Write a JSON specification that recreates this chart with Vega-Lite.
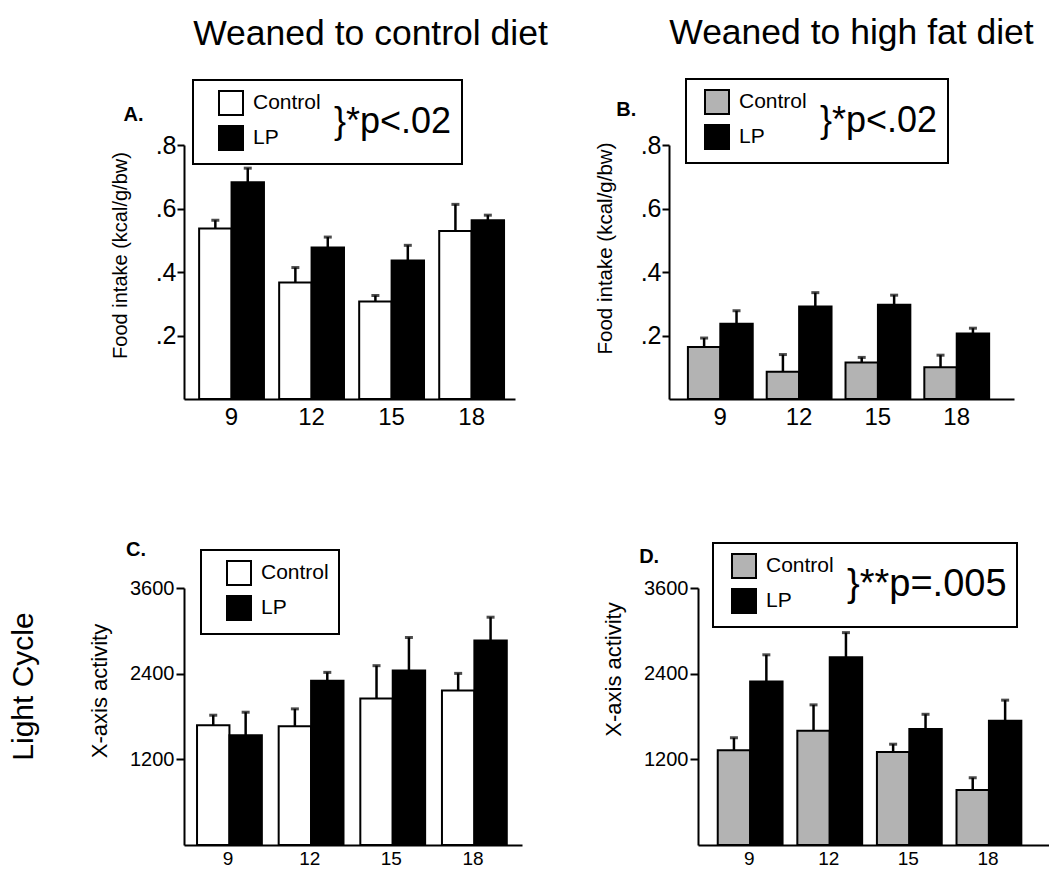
{
  "$schema": "https://vega.github.io/schema/vega-lite/v6.json",
  "background": "white",
  "padding": {"left": 8, "top": 15, "right": 0, "bottom": 0},
  "config": {
    "font": "Liberation Sans",
    "view": {"stroke": null},
    "axis": {"domainColor": "black", "domainWidth": 2, "tickColor": "black", "tickWidth": 2, "labelColor": "black", "titleColor": "black", "grid": false, "titleFontWeight": "normal", "labelFont": "Liberation Sans", "titleFont": "Liberation Sans"},
    "title": {"color": "black", "fontWeight": "normal", "font": "Liberation Sans"},
    "legend": {"orient": "none", "padding": 10, "strokeColor": "black", "strokeWidth": 2, "fillColor": "white", "symbolSize": 576, "symbolType": "square", "symbolStrokeColor": "black", "symbolStrokeWidth": 2, "symbolOffset": 15, "labelFontSize": 21, "labelFont": "Liberation Sans", "labelColor": "black", "labelOffset": 9, "rowPadding": 3, "titleOrient": "right", "titleFontSize": 36, "titleFontWeight": "normal", "titleFont": "Liberation Sans", "titleColor": "black", "titlePadding": 13, "titleAnchor": "middle", "titleBaseline": "middle", "titleLimit": 400, "labelLimit": 200}
  },
  "resolve": {"scale": {"color": "independent"}, "legend": {"color": "independent"}},
  "spacing": 110,
  "vconcat": [
    {
      "bounds": "flush",
      "spacing": 154,
      "resolve": {"scale": {"color": "independent"}, "legend": {"color": "independent"}},
      "hconcat": [
        {
          "width": 331, "height": 254,
          "title": {"text": "Weaned to control diet", "fontSize": 35.5, "anchor": "middle", "frame": "group", "dx": 21, "offset": 27},
          "data": {"values": [
            {"age": "9", "group": "Control", "mean": 0.537, "err": 0.563},
            {"age": "9", "group": "LP", "mean": 0.683, "err": 0.727},
            {"age": "12", "group": "Control", "mean": 0.367, "err": 0.414},
            {"age": "12", "group": "LP", "mean": 0.477, "err": 0.510},
            {"age": "15", "group": "Control", "mean": 0.307, "err": 0.326},
            {"age": "15", "group": "LP", "mean": 0.436, "err": 0.484},
            {"age": "18", "group": "Control", "mean": 0.529, "err": 0.613},
            {"age": "18", "group": "LP", "mean": 0.563, "err": 0.579}
          ]},
          "encoding": {
            "x": {"field": "age", "type": "nominal", "scale": {"domain": ["9", "12", "15", "18"], "paddingInner": 0.19, "paddingOuter": 0.163, "align": 0.58}, "axis": {"title": null, "labelAngle": 0, "ticks": false, "labelFontSize": 24, "labelPadding": 6}},
            "y": {"field": "mean", "type": "quantitative", "scale": {"domain": [0, 0.8], "nice": false}, "axis": {"values": [0.2, 0.4, 0.6, 0.8], "labelExpr": "substring(format(datum.value, '.1f'), 1)", "labelFontSize": 25, "labelPadding": 1, "tickSize": 7, "title": "Food intake (kcal/g/bw)", "titleFontSize": 20, "titlePadding": 25, "titleY": 110}}
          },
          "layer": [
            {"mark": {"type": "bar", "stroke": "black", "strokeWidth": 2},
             "encoding": {"xOffset": {"field": "group", "type": "nominal", "sort": ["Control", "LP"]},
               "color": {"field": "group", "type": "nominal", "scale": {"domain": ["Control", "LP"], "range": ["white", "black"]}, "legend": {"legendX": 9, "legendY": -65, "title": "}*p<.02", "symbolOffset": 15}}}},
            {"mark": {"type": "rule", "strokeWidth": 2.5, "color": "black"},
             "encoding": {"xOffset": {"field": "group", "type": "nominal", "sort": ["Control", "LP"]}, "y2": {"field": "err"}}},
            {"mark": {"type": "tick", "color": "black", "thickness": 3, "size": 8},
             "encoding": {"xOffset": {"field": "group", "type": "nominal", "sort": ["Control", "LP"]}, "y": {"field": "err", "type": "quantitative", "scale": {"domain": [0, 0.8], "nice": false}, "axis": {"values": [0.2, 0.4, 0.6, 0.8], "labelExpr": "substring(format(datum.value, '.1f'), 1)", "labelFontSize": 25, "labelPadding": 1, "tickSize": 7, "title": "Food intake (kcal/g/bw)", "titleFontSize": 20, "titlePadding": 25, "titleY": 110}}}},
            {"data": {"values": [{"label": "A.", "age": "9", "mean": 0.8756}]},
             "mark": {"type": "text", "fontSize": 20, "fontWeight": "bold", "align": "left", "baseline": "alphabetic", "dx": -108, "color": "black"},
             "encoding": {"text": {"field": "label"}}}
          ]
        },
        {
          "width": 345, "height": 254,
          "title": {"text": "Weaned to high fat diet", "fontSize": 35.5, "anchor": "middle", "frame": "group", "dx": 10, "offset": 27},
          "data": {"values": [
            {"age": "9", "group": "Control", "mean": 0.164, "err": 0.192},
            {"age": "9", "group": "LP", "mean": 0.237, "err": 0.278},
            {"age": "12", "group": "Control", "mean": 0.086, "err": 0.140},
            {"age": "12", "group": "LP", "mean": 0.291, "err": 0.335},
            {"age": "15", "group": "Control", "mean": 0.115, "err": 0.131},
            {"age": "15", "group": "LP", "mean": 0.297, "err": 0.327},
            {"age": "18", "group": "Control", "mean": 0.100, "err": 0.138},
            {"age": "18", "group": "LP", "mean": 0.206, "err": 0.223}
          ]},
          "encoding": {
            "x": {"field": "age", "type": "nominal", "scale": {"domain": ["9", "12", "15", "18"], "paddingInner": 0.18, "paddingOuter": 0.279, "align": 0.43}, "axis": {"title": null, "labelAngle": 0, "ticks": false, "labelFontSize": 24, "labelPadding": 6}},
            "y": {"field": "mean", "type": "quantitative", "scale": {"domain": [0, 0.8], "nice": false}, "axis": {"values": [0.2, 0.4, 0.6, 0.8], "labelExpr": "substring(format(datum.value, '.1f'), 1)", "labelFontSize": 25, "labelPadding": 1, "tickSize": 7, "title": "Food intake (kcal/g/bw)", "titleFontSize": 20.5, "titlePadding": 25, "titleY": 103}}
          },
          "layer": [
            {"mark": {"type": "bar", "stroke": "black", "strokeWidth": 2},
             "encoding": {"xOffset": {"field": "group", "type": "nominal", "sort": ["Control", "LP"]},
               "color": {"field": "group", "type": "nominal", "scale": {"domain": ["Control", "LP"], "range": ["#b3b3b3", "black"]}, "legend": {"legendX": 17, "legendY": -66, "title": "}*p<.02", "symbolOffset": 8}}}},
            {"mark": {"type": "rule", "strokeWidth": 2.5, "color": "black"},
             "encoding": {"xOffset": {"field": "group", "type": "nominal", "sort": ["Control", "LP"]}, "y2": {"field": "err"}}},
            {"mark": {"type": "tick", "color": "black", "thickness": 3, "size": 8},
             "encoding": {"xOffset": {"field": "group", "type": "nominal", "sort": ["Control", "LP"]}, "y": {"field": "err", "type": "quantitative", "scale": {"domain": [0, 0.8], "nice": false}, "axis": {"values": [0.2, 0.4, 0.6, 0.8], "labelExpr": "substring(format(datum.value, '.1f'), 1)", "labelFontSize": 25, "labelPadding": 1, "tickSize": 7, "title": "Food intake (kcal/g/bw)", "titleFontSize": 20.5, "titlePadding": 25, "titleY": 103}}}},
            {"data": {"values": [{"label": "B.", "age": "9", "mean": 0.891}]},
             "mark": {"type": "text", "fontSize": 20, "fontWeight": "bold", "align": "left", "baseline": "alphabetic", "dx": -104, "color": "black"},
             "encoding": {"text": {"field": "label"}}}
          ]
        }
      ]
    },
    {
      "bounds": "flush",
      "spacing": 176,
      "resolve": {"scale": {"color": "independent"}, "legend": {"color": "independent"}},
      "hconcat": [
        {
          "width": 338, "height": 257,
          "title": {"text": "Light Cycle", "orient": "left", "fontSize": 30, "anchor": "middle", "frame": "group", "dx": 30, "offset": 50},
          "data": {"values": [
            {"age": "9", "group": "Control", "mean": 1678, "err": 1818},
            {"age": "9", "group": "LP", "mean": 1539, "err": 1860},
            {"age": "12", "group": "Control", "mean": 1665, "err": 1907},
            {"age": "12", "group": "LP", "mean": 2302, "err": 2418},
            {"age": "15", "group": "Control", "mean": 2051, "err": 2512},
            {"age": "15", "group": "LP", "mean": 2446, "err": 2907},
            {"age": "18", "group": "Control", "mean": 2163, "err": 2404},
            {"age": "18", "group": "LP", "mean": 2865, "err": 3191}
          ]},
          "encoding": {
            "x": {"field": "age", "type": "nominal", "scale": {"domain": ["9", "12", "15", "18"], "paddingInner": 0.24, "paddingOuter": 0.19, "align": 0.42}, "axis": {"title": null, "labelAngle": 0, "ticks": false, "labelFontSize": 19, "labelPadding": 4}},
            "y": {"field": "mean", "type": "quantitative", "scale": {"domain": [0, 3600], "nice": false}, "axis": {"values": [1200, 2400, 3600], "format": "d", "labelFontSize": 20, "labelPadding": 2, "tickSize": 8, "title": "X-axis activity", "titleFontSize": 22, "titlePadding": 18, "titleY": 102.5}}
          },
          "layer": [
            {"mark": {"type": "bar", "stroke": "black", "strokeWidth": 2},
             "encoding": {"xOffset": {"field": "group", "type": "nominal", "sort": ["Control", "LP"]},
               "color": {"field": "group", "type": "nominal", "scale": {"domain": ["Control", "LP"], "range": ["white", "black"]}, "legend": {"legendX": 17, "legendY": -38, "title": null, "symbolOffset": 15}}}},
            {"mark": {"type": "rule", "strokeWidth": 2.5, "color": "black"},
             "encoding": {"xOffset": {"field": "group", "type": "nominal", "sort": ["Control", "LP"]}, "y2": {"field": "err"}}},
            {"mark": {"type": "tick", "color": "black", "thickness": 3, "size": 8},
             "encoding": {"xOffset": {"field": "group", "type": "nominal", "sort": ["Control", "LP"]}, "y": {"field": "err", "type": "quantitative", "scale": {"domain": [0, 3600], "nice": false}, "axis": {"values": [1200, 2400, 3600], "format": "d", "labelFontSize": 20, "labelPadding": 2, "tickSize": 8, "title": "X-axis activity", "titleFontSize": 22, "titlePadding": 18, "titleY": 102.5}}}},
            {"data": {"values": [{"label": "C.", "age": "9", "mean": 4055}]},
             "mark": {"type": "text", "fontSize": 20, "fontWeight": "bold", "align": "left", "baseline": "alphabetic", "dx": -102, "color": "black"},
             "encoding": {"text": {"field": "label"}}}
          ]
        },
        {
          "width": 351, "height": 257,
          "data": {"values": [
            {"age": "9", "group": "Control", "mean": 1327, "err": 1501},
            {"age": "9", "group": "LP", "mean": 2292, "err": 2664},
            {"age": "12", "group": "Control", "mean": 1600, "err": 1963},
            {"age": "12", "group": "LP", "mean": 2631, "err": 2975},
            {"age": "15", "group": "Control", "mean": 1303, "err": 1412},
            {"age": "15", "group": "LP", "mean": 1624, "err": 1831},
            {"age": "18", "group": "Control", "mean": 772, "err": 942},
            {"age": "18", "group": "LP", "mean": 1741, "err": 2029}
          ]},
          "encoding": {
            "x": {"field": "age", "type": "nominal", "scale": {"domain": ["9", "12", "15", "18"], "paddingInner": 0.21, "paddingOuter": 0.31, "align": 0.40}, "axis": {"title": null, "labelAngle": 0, "ticks": false, "labelFontSize": 19, "labelPadding": 4}},
            "y": {"field": "mean", "type": "quantitative", "scale": {"domain": [0, 3600], "nice": false}, "axis": {"values": [1200, 2400, 3600], "format": "d", "labelFontSize": 20, "labelPadding": 2, "tickSize": 8, "title": "X-axis activity", "titleFontSize": 22, "titlePadding": 18, "titleY": 81}}
          },
          "layer": [
            {"mark": {"type": "bar", "stroke": "black", "strokeWidth": 2},
             "encoding": {"xOffset": {"field": "group", "type": "nominal", "sort": ["Control", "LP"]},
               "color": {"field": "group", "type": "nominal", "scale": {"domain": ["Control", "LP"], "range": ["#b3b3b3", "black"]}, "legend": {"legendX": 15, "legendY": -45, "title": "}**p=.005", "titleFontSize": 38, "symbolOffset": 8}}}},
            {"mark": {"type": "rule", "strokeWidth": 2.5, "color": "black"},
             "encoding": {"xOffset": {"field": "group", "type": "nominal", "sort": ["Control", "LP"]}, "y2": {"field": "err"}}},
            {"mark": {"type": "tick", "color": "black", "thickness": 3, "size": 8},
             "encoding": {"xOffset": {"field": "group", "type": "nominal", "sort": ["Control", "LP"]}, "y": {"field": "err", "type": "quantitative", "scale": {"domain": [0, 3600], "nice": false}, "axis": {"values": [1200, 2400, 3600], "format": "d", "labelFontSize": 20, "labelPadding": 2, "tickSize": 8, "title": "X-axis activity", "titleFontSize": 22, "titlePadding": 18, "titleY": 81}}}},
            {"data": {"values": [{"label": "D.", "age": "9", "mean": 3957}]},
             "mark": {"type": "text", "fontSize": 20, "fontWeight": "bold", "align": "left", "baseline": "alphabetic", "dx": -110, "color": "black"},
             "encoding": {"text": {"field": "label"}}}
          ]
        }
      ]
    }
  ]
}
